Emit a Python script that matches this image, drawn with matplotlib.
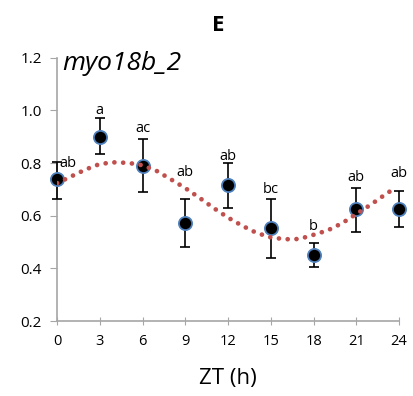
import numpy as np
import matplotlib.pyplot as plt

plt.rcParams['font.family'] = ['Open Sans', 'DejaVu Sans']

# data
zt = [0, 3, 6, 9, 12, 15, 18, 21, 24]
expr = [0.74, 0.90, 0.79, 0.573, 0.717, 0.553, 0.45, 0.626, 0.626]
err_hi = [0.805, 0.97, 0.89, 0.664, 0.80, 0.664, 0.497, 0.705, 0.695]
err_lo = [0.664, 0.835, 0.69, 0.48, 0.63, 0.44, 0.405, 0.54, 0.557]
letters = ['ab', 'a', 'ac', 'ab', 'ab', 'bc', 'b', 'ab', 'ab']
letter_y = [0.80, 1.0, 0.93, 0.766, 0.824, 0.70, 0.56, 0.747, 0.76]  # label centres

# fitted trend (dotted red), read hourly
trend_t = [0, 1, 2, 3, 4, 5, 6, 7, 8, 9, 10, 11, 12, 13, 14, 15, 16, 17, 18,
           19, 20, 21, 22, 23, 23.7]
trend_v = [0.724, 0.75, 0.776, 0.797, 0.803, 0.801, 0.792, 0.770, 0.738,
           0.705, 0.668, 0.629, 0.593, 0.562, 0.535, 0.518, 0.511, 0.512,
           0.528, 0.545, 0.572, 0.607, 0.642, 0.680, 0.705]

fig = plt.figure(figsize=(4.14, 3.96), dpi=100)
ax = fig.add_axes([0.138, 0.189, 0.826, 0.665])

yerr = [np.array(expr) - np.array(err_lo), np.array(err_hi) - np.array(expr)]
ax.errorbar(zt, expr, yerr=yerr, fmt='none', ecolor='black', elinewidth=1.2,
            capsize=3.5, capthick=1.2, zorder=3, clip_on=False)
ax.plot(zt, expr, 'o', ms=9.5, mfc='black', mec='#4F81BD', mew=1.3,
        zorder=4, clip_on=False)
ax.plot(trend_t, trend_v, color='#C0504D', lw=3.4, ls=(0, (0.01, 1.85)),
        solid_capstyle='round', dash_capstyle='round', zorder=5)

for i, (x, ty, lab) in enumerate(zip(zt, letter_y, letters)):
    dx = 0.75 if i == 0 else 0
    ax.text(x + dx, ty, lab, ha='center', va='center', fontsize=10.5)

ax.set_xlim(0, 24)
ax.set_ylim(0.2, 1.2)
ax.set_xticks(zt)
ax.set_yticks([0.2, 0.4, 0.6, 0.8, 1.0, 1.2])
ax.set_yticklabels(['0.2', '0.4', '0.6', '0.8', '1.0', '1.2'], fontsize=11)
ax.set_xticklabels([str(v) for v in zt], fontsize=10.5)
for s in ['top', 'right']:
    ax.spines[s].set_visible(False)
for s in ['left', 'bottom']:
    ax.spines[s].set_color('#A6A6A6')
    ax.spines[s].set_linewidth(1.2)
ax.tick_params(axis='y', direction='out', length=5, color='#A6A6A6', pad=6)
ax.tick_params(axis='x', direction='inout', length=6, color='#A6A6A6', pad=6)

ax.set_xlabel('ZT (h)', fontsize=16, labelpad=14)
fig.text(0.527, 0.936, 'E', ha='center', va='center', fontsize=16, fontweight='bold')
ax.text(0.015, 0.98, 'myo18b_2', transform=ax.transAxes, ha='left', va='center',
        fontsize=19, style='italic')

fig.savefig('out.png', dpi=100)
